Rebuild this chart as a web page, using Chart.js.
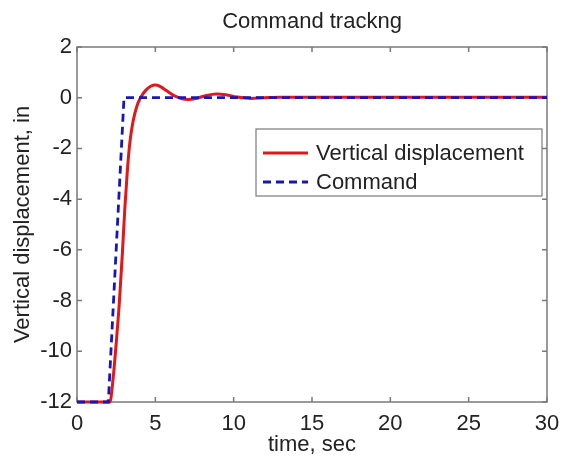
<!DOCTYPE html>
<html>
<head>
<meta charset="utf-8">
<script src="https://cdn.jsdelivr.net/npm/chart.js@4/dist/chart.umd.min.js"></script>
<style>
  body { margin: 0; background: #fff; }
  #wrap { width: 562px; height: 459px; position: relative; }
</style>
</head>
<body>
<div id="wrap"><canvas id="chart"></canvas></div>
<script>
// response data
const timeResp = [0, 2.1, 2.3, 2.5, 2.7, 2.9, 3.05, 3.2, 3.35, 3.5, 3.7, 3.9, 4.1, 4.4, 4.7, 5.0, 5.3, 5.7, 6.2, 6.7, 7.1, 7.6, 8.2, 8.9, 9.5, 10.2, 11.1, 12, 13, 15, 20, 25, 30]
const dispResp = [-12, -12, -11.1, -9.7, -8.1, -6.1, -4.4, -3, -1.9, -1.2, -0.6, -0.2, 0.05, 0.3, 0.45, 0.5, 0.45, 0.28, 0.08, -0.04, -0.07, -0.03, 0.08, 0.15, 0.12, 0.03, -0.03, 0, 0.02, 0.02, 0.02, 0.02, 0.02]

const timeCmd = [0, 2, 3, 30]
const dispCmd = [-12, -12, 0, 0]

const xTicks = [0, 5, 10, 15, 20, 25, 30]
const yTicks = [-12, -10, -8, -6, -4, -2, 0, 2]

const seriesNames = ['Vertical displacement', 'Command']

const font = 'Liberation Sans, Arial, sans-serif'

let toPoints = (xs, ys) => xs.map((x, i) => ({ x: x, y: ys[i] }))

// matlab style box with inward ticks
const frame = {
   id: 'frame',
   beforeDatasetsDraw(chart) {
      const { ctx, chartArea: a, scales: { x, y } } = chart
      ctx.save()
      ctx.strokeStyle = '#7a7a7a'
      ctx.lineWidth = 1.5
      ctx.strokeRect(a.left, a.top, a.right - a.left, a.bottom - a.top)
      ctx.beginPath()
      x.ticks.forEach(t => {
         let px = x.getPixelForValue(t.value)
         ctx.moveTo(px, a.bottom); ctx.lineTo(px, a.bottom - 5)
         ctx.moveTo(px, a.top); ctx.lineTo(px, a.top + 5)
      })
      y.ticks.forEach(t => {
         let py = y.getPixelForValue(t.value)
         ctx.moveTo(a.left, py); ctx.lineTo(a.left + 5, py)
         ctx.moveTo(a.right, py); ctx.lineTo(a.right - 5, py)
      })
      ctx.stroke()
      ctx.restore()
   }
}

// legend box inside the plot
const boxLegend = {
   id: 'boxLegend',
   afterDraw(chart) {
      const { ctx, chartArea: a } = chart
      let right = a.right - 5
      let left = right - 286
      let top = a.top + 82
      let h = 67
      ctx.save()
      ctx.fillStyle = '#fff'
      ctx.fillRect(left, top, right - left, h)
      ctx.strokeStyle = '#7a7a7a'
      ctx.lineWidth = 1.2
      ctx.strokeRect(left, top, right - left, h)
      ctx.font = '22px ' + font
      ctx.textBaseline = 'middle'
      ctx.fillStyle = '#222'
      chart.data.datasets.forEach((ds, i) => {
         let yy = top + 24 + i * 29
         ctx.beginPath()
         ctx.strokeStyle = ds.borderColor
         ctx.lineWidth = ds.borderWidth
         ctx.setLineDash(ds.borderDash || [])
         ctx.moveTo(left + 7, yy)
         ctx.lineTo(left + 52, yy)
         ctx.stroke()
         ctx.setLineDash([])
         ctx.fillText(ds.label, left + 60, yy + 1)
      })
      ctx.restore()
   }
}

const ctx = document.getElementById('chart').getContext('2d')
const myChart = new Chart(ctx, {
   type: 'line',
   data: {
      datasets: [{
         label: seriesNames[0],
         data: toPoints(timeResp, dispResp),
         borderColor: 'rgb(228, 22, 24)',
         borderWidth: 3,
         pointRadius: 0,
         cubicInterpolationMode: 'monotone',
         clip: 4,
         order: 1
      }, {
         label: seriesNames[1],
         data: toPoints(timeCmd, dispCmd),
         borderColor: 'rgb(22, 22, 190)',
         borderWidth: 2.8,
         borderDash: [8, 5],
         pointRadius: 0,
         tension: 0,
         clip: 4,
         order: 0
      }]
   },
   options: {
      responsive: true,
      maintainAspectRatio: false,
      animation: false,
      layout: { padding: { right: 15 } },
      plugins: {
         legend: { display: false },
         tooltip: { enabled: false },
         title: {
            display: true,
            fullSize: false,
            text: 'Command trackng',
            color: '#222',
            font: { family: font, size: 22, weight: 'normal' },
            padding: { top: 9, bottom: 11.6 }
         }
      },
      scales: {
         x: {
            type: 'linear',
            min: 0,
            max: 30,
            afterBuildTicks: (s) => { s.ticks = xTicks.map(v => ({ value: v })) },
            afterFit: (s) => { s.height = 57; s.paddingRight = 0; s.paddingLeft = 0 },
            grid: { display: false, drawTicks: false },
            border: { display: false },
            ticks: { color: '#222', padding: 9, maxRotation: 0, font: { family: font, size: 22 } },
            title: {
               display: true,
               text: 'time, sec',
               color: '#222',
               font: { family: font, size: 22 },
               padding: { top: 0, bottom: 1 }
            }
         },
         y: {
            min: -12,
            max: 2,
            afterBuildTicks: (s) => { s.ticks = yTicks.map(v => ({ value: v })) },
            afterFit: (s) => { s.width = 77; s.paddingTop = 0; s.paddingBottom = 0 },
            grid: { display: false, drawTicks: false },
            border: { display: false },
            ticks: { color: '#222', padding: 5, font: { family: font, size: 22 } },
            title: {
               display: true,
               text: 'Vertical displacement, in',
               color: '#222',
               font: { family: font, size: 22 },
               padding: { top: 10, bottom: 0 }
            }
         }
      }
   },
   plugins: [frame, boxLegend]
})
</script>
</body>
</html>
